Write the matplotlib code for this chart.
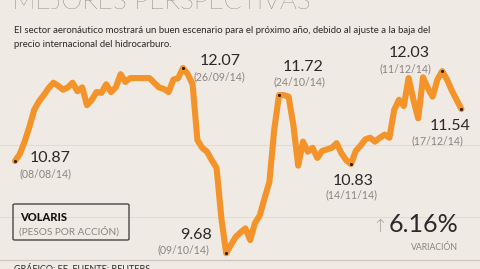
import matplotlib
matplotlib.use("Agg")
import matplotlib.pyplot as plt
from matplotlib.patches import FancyBboxPatch

# ---- data (VOLARIS, pesos por acción, daily closes 08/08/14 - 17/12/14) ----
prices = [10.87, 10.96, 11.12, 11.31, 11.53, 11.64, 11.72, 11.81, 11.88, 11.84,
          11.79, 11.82, 11.88, 11.77, 11.82, 11.59, 11.66, 11.76, 11.75, 11.86,
          11.76, 11.82, 11.99, 11.89, 11.94, 11.94, 11.94, 11.94, 11.94, 11.88,
          11.82, 11.80, 11.76, 11.92, 11.94, 12.07, 11.99, 11.86, 11.14, 11.04,
          10.99, 10.88, 10.78, 10.13, 9.68, 9.79, 9.89, 9.95, 10.00, 9.85,
          10.07, 10.17, 10.39, 10.60, 11.27, 11.72, 11.72, 11.70, 11.33, 10.81,
          11.12, 10.99, 11.04, 10.91, 11.00, 11.02, 11.04, 11.10, 10.97, 10.88,
          10.83, 11.00, 11.07, 11.15, 11.17, 11.12, 11.17, 11.21, 11.17, 11.53,
          11.66, 11.58, 11.94, 11.66, 11.42, 11.95, 11.81, 11.70, 11.92, 12.03,
          11.92, 11.78, 11.66, 11.54]
days = list(range(len(prices)))

# annotated points: (day index, value label, date label)
ann_idx = [0, 35, 44, 55, 70, 89, 93]
ann_val = ["10.87", "12.07", "9.68", "11.72", "10.83", "12.03", "11.54"]
ann_date = ["(08/08/14)", "(26/09/14)", "(09/10/14)", "(24/10/14)",
            "(14/11/14)", "(11/12/14)", "(17/12/14)"]

title = "MEJORES PERSPECTIVAS"
subtitle1 = "El sector aeronáutico mostrará un buen escenario para el próximo año, debido al ajuste a la baja del"
subtitle2 = "precio internacional del hidrocarburo."
series_name = "VOLARIS"
unit = "(PESOS POR ACCIÓN)"
variation = "6.16%"
variation_label = "VARIACIÓN"
source = "GRÁFICO: EE. FUENTE: REUTERS"

BG = "#efeae3"
ORANGE = "#f4932a"
DARK = "#2a2a2a"
GRAY = "#8a8580"

W, H = 480, 269
fig = plt.figure(figsize=(W / 100, H / 100), dpi=100, facecolor=BG)
plt.rcParams['font.family'] = ['Lato', 'DejaVu Sans']

ax = fig.add_axes([0, 0, 1, 1])
ax.set_facecolor(BG)
# pixel mapping: day 0 -> x 15px, 4.8 px/day ; value 10.87 -> y 161px, 77.5 px/unit
px_per_day, x0 = 4.8, 15
px_per_unit, y0, v0 = 77.5, 161, 10.87
ax.set_xlim(-x0 / px_per_day, (W - x0) / px_per_day)
ax.set_ylim(v0 - (H - y0) / px_per_unit, v0 + y0 / px_per_unit)
ax.axis("off")

def py2v(py):
    return v0 + (y0 - py) / px_per_unit

# faint gridlines
for gy in [145, 217]:
    ax.axhline(py2v(gy), color="#e2dcd4", lw=0.8, zorder=0)
ax.axhline(py2v(260), color="#cfc9c1", lw=1.0, zorder=0)

ax.plot(days, prices, color=ORANGE, lw=4.4, solid_joinstyle="round",
        solid_capstyle="round", zorder=2)
ax.scatter([days[i] for i in ann_idx], [prices[i] for i in ann_idx],
           s=1.5, color="#222", zorder=3)

def ftext(x, y, s, **kw):
    fig.text(x / W, 1 - y / H, s, **kw)

# title (cut off at top, as in the original)
ftext(12, 9, title, fontsize=19, color="#4a4642", fontweight="light",
      ha="left", va="baseline")
ftext(14, 33, subtitle1, fontsize=6.9, color=DARK, ha="left", va="baseline")
ftext(14, 47, subtitle2, fontsize=6.9, color=DARK, ha="left", va="baseline")

# annotations: positions of value label (left x, baseline y) in px
val_pos = [(30, 162), (200, 65), (180, 239), (283, 71), (333, 185), (389, 57), (430, 130)]
date_pos = [(20, 177), (194, 80), (158, 253), (274, 85), (325, 198), (379, 72), (412, 144)]
for v, d, vp, dp in zip(ann_val, ann_date, val_pos, date_pos):
    ftext(vp[0], vp[1], v, fontsize=11.5, color=DARK, ha="left", va="baseline")
    ftext(dp[0], dp[1], d, fontsize=7.6, color=GRAY, ha="left", va="baseline")

# VOLARIS box
box = FancyBboxPatch((13 / W, 1 - 240 / H), 116 / W, 36 / H,
                     boxstyle="round,pad=0,rounding_size=0.004",
                     transform=fig.transFigure, fill=False,
                     edgecolor="#4a4642", lw=1.0)
fig.add_artist(box)
ftext(20, 221, series_name, fontsize=8, color="#111", fontweight="black",
      ha="left", va="baseline")
ftext(19, 235, unit, fontsize=7.2, color=GRAY, ha="left", va="baseline")

# variation
ftext(372, 232, "↑", fontsize=13, color="#b0aaa4", ha="left", va="baseline",
      fontweight="light", family=["DejaVu Sans"])
ftext(458, 232, variation, fontsize=18, color=DARK, ha="right", va="baseline")
ftext(458, 250, variation_label, fontsize=6.3, color=GRAY, ha="right", va="baseline")

ftext(14, 272, source, fontsize=6.5, color=DARK, ha="left", va="baseline")

fig.savefig("out.png", dpi=100, facecolor=BG)
